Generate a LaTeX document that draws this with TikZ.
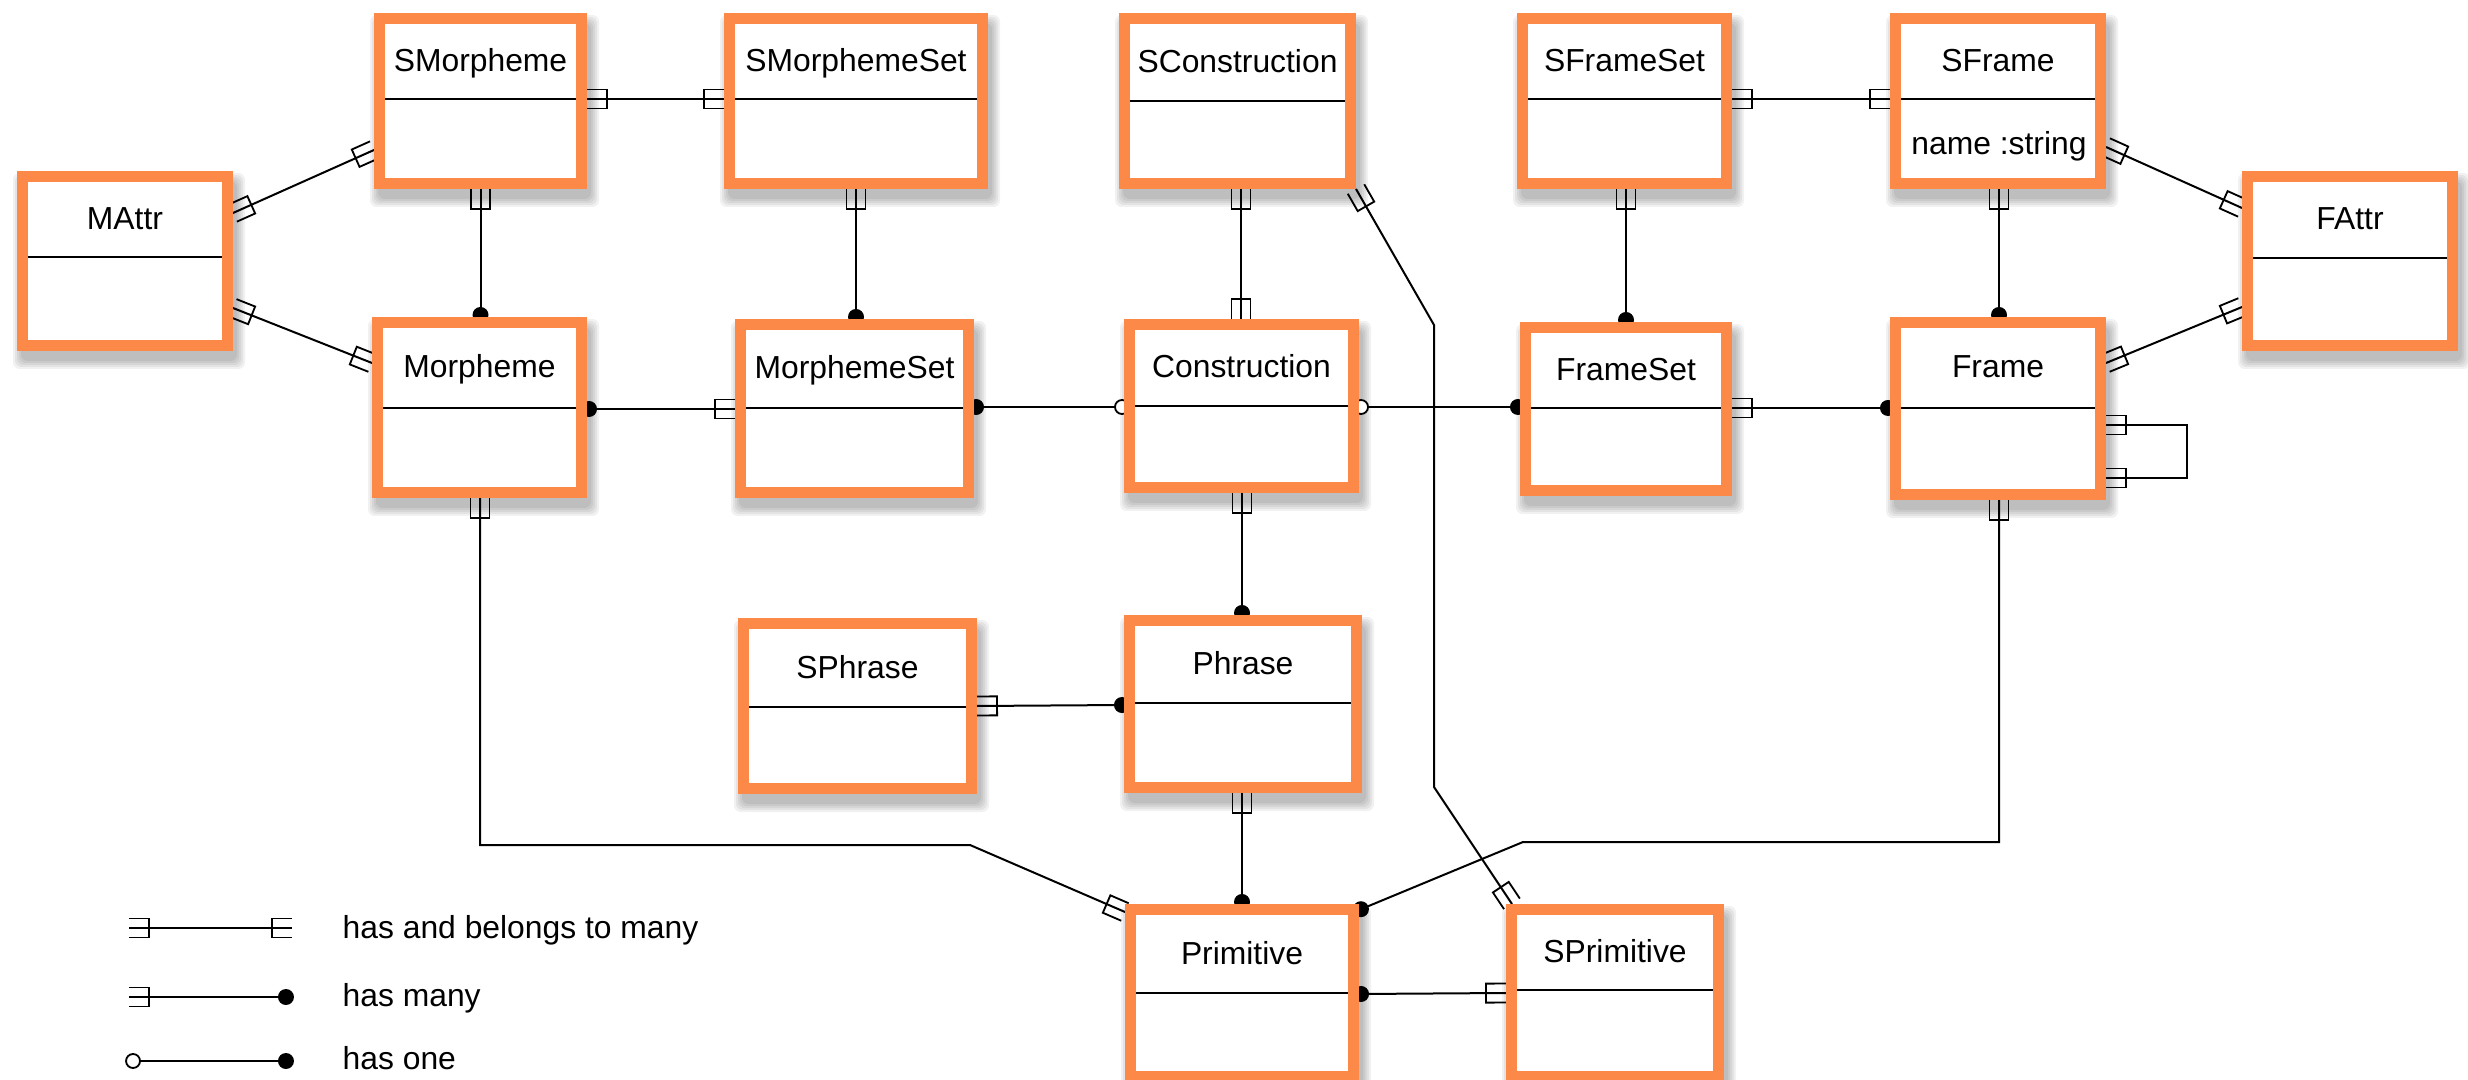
\documentclass[tikz,border=0pt]{standalone}
\usepackage{fontspec}
\setmainfont{Liberation Sans}
\usetikzlibrary{decorations.markings}

\definecolor{boxorange}{RGB}{253,137,72}

\pgfdeclarelayer{back}
\pgfdeclarelayer{shade}
\pgfdeclarelayer{wires}
\pgfsetlayers{back,shade,wires,main}

\tikzset{
  classbox/.style={rectangle, draw=boxorange, line width=3.3pt, fill=white,
    inner sep=0pt, outer sep=1.65pt},
  shadestep/.style={fill=black, fill opacity=0.055, draw=none, rounded corners=2pt},
  divider/.style={line width=0.7pt},
  classtitle/.style={anchor=base, inner sep=0pt, font=\fontsize{9.55pt}{11pt}\selectfont},
  legendtext/.style={anchor=base west, inner sep=0pt, font=\fontsize{9.55pt}{11pt}\selectfont},
  wire/.style={line width=0.6pt},
  markline/.style={line width=0.55pt},
  % crow-style "many" bracket, open towards the class box
  manyS/.style={postaction={decorate,decoration={markings,
    mark=at position 0.01pt with {\draw[markline] (0pt,-2.85pt) -- (6pt,-2.85pt) -- (6pt,2.85pt) -- (0pt,2.85pt);}}}},
  manyE/.style={postaction={decorate,decoration={markings,
    mark=at position -0.01pt with {\draw[markline] (0pt,-2.85pt) -- (-6pt,-2.85pt) -- (-6pt,2.85pt) -- (0pt,2.85pt);}}}},
  % filled dot
  dotS/.style={postaction={decorate,decoration={markings,
    mark=at position 0.01pt with {\fill (0.6pt,0pt) circle (2.4pt);}}}},
  dotE/.style={postaction={decorate,decoration={markings,
    mark=at position -0.01pt with {\fill (-0.6pt,0pt) circle (2.4pt);}}}},
  % open circle
  openS/.style={postaction={decorate,decoration={markings,
    mark=at position 0.01pt with {\draw[markline,fill=white] (0.6pt,0pt) circle (2.1pt);}}}},
  openE/.style={postaction={decorate,decoration={markings,
    mark=at position -0.01pt with {\draw[markline,fill=white] (-0.6pt,0pt) circle (2.1pt);}}}},
}

% #1 name, #2 left, #3 top, #4 right, #5 bottom, #6 divider, #7 title
\newcommand\umlclass[7]{%
  \begin{pgfonlayer}{shade}
    \foreach \r in {0,2,...,8}
      \fill[shadestep] ({#2+4-\r},{#3+10-\r}) rectangle ({#4+4+\r},{#5+10+\r});
  \end{pgfonlayer}
  \node[classbox, minimum width={(#4-#2-11)*0.3pt}, minimum height={(#5-#3-11)*0.3pt}]
    (#1) at ({(#2+#4)/2},{(#3+#5)/2}) {};
  \draw[divider] ({#2+11},#6) -- ({#4-11},#6);
  \node[classtitle] (#1-title) at ({(#2+#4)/2},{(#3+11+#6)/2+10}) {#7};
}

\begin{document}
\begin{tikzpicture}[x=0.3pt,y=-0.3pt]
\begin{pgfonlayer}{back}
  \fill[white] (0,0) rectangle (2468,1080);
\end{pgfonlayer}
\useasboundingbox (0,0) rectangle (2468,1080);

% classes
\umlclass{MAttr}{17}{171}{233}{351}{257}{MAttr}
\umlclass{SMorpheme}{374}{13}{587}{189}{99}{SMorpheme}
\umlclass{SMorphemeSet}{724}{13}{988}{189}{99}{SMorphemeSet}
\umlclass{SConstruction}{1119}{13}{1356}{189}{101}{SConstruction}
\umlclass{SFrameSet}{1517}{13}{1732}{189}{99}{SFrameSet}
\umlclass{SFrame}{1890}{13}{2106}{189}{99}{SFrame}
\node[classtitle] (SFrame-attr) at (1999,155) {name :string};
\umlclass{FAttr}{2242}{171}{2458}{351}{258}{FAttr}
\umlclass{Morpheme}{372}{317}{587}{498}{408}{Morpheme}
\umlclass{MorphemeSet}{735}{319}{974}{498}{408}{MorphemeSet}
\umlclass{Construction}{1124}{319}{1359}{493}{406}{Construction}
\umlclass{FrameSet}{1520}{322}{1732}{496}{408}{FrameSet}
\umlclass{Frame}{1890}{317}{2106}{500}{408}{Frame}
\umlclass{SPhrase}{738}{618}{977}{794}{707}{SPhrase}
\umlclass{Phrase}{1124}{615}{1362}{793}{703}{Phrase}
\umlclass{Primitive}{1125}{904}{1359}{1082}{993}{Primitive}
\umlclass{SPrimitive}{1506}{904}{1724}{1082}{990}{SPrimitive}

% associations
\begin{pgfonlayer}{wires}
  \draw[wire,manyS,manyE] (MAttr.east |- 0,213) -- (SMorpheme.west |- 0,150);
  \draw[wire,manyS,manyE] (MAttr.east |- 0,308) -- (Morpheme.west |- 0,363);
  \draw[wire,manyS,manyE] (SMorpheme.east |- 0,99) -- (SMorphemeSet.west |- 0,99);
  \draw[wire,manyS,dotE] (SMorpheme.south) -- (SMorpheme.south |- Morpheme.north);
  \draw[wire,manyS,dotE] (SMorphemeSet.south) -- (SMorphemeSet.south |- MorphemeSet.north);
  \draw[wire,dotS,manyE] (Morpheme.east |- 0,409) -- (MorphemeSet.west |- 0,409);
  \draw[wire,dotS,openE] (MorphemeSet.east |- 0,407) -- (Construction.west |- 0,407);
  \draw[wire,manyS,manyE] (SConstruction.south -| 1241,0) -- (Construction.north -| 1241,0);
  \draw[wire,openS,dotE] (Construction.east |- 0,407) -- (FrameSet.west |- 0,407);
  \draw[wire,manyS,manyE] (SConstruction.south east) -- (1434,325) -- (1434,787)
        -- (SPrimitive.north -| 1512,0);
  \draw[wire,manyS,manyE] (SFrameSet.east |- 0,99) -- (SFrame.west |- 0,99);
  \draw[wire,manyS,dotE] (SFrameSet.south -| 1626,0) -- (FrameSet.north -| 1626,0);
  \draw[wire,manyS,dotE] (FrameSet.east |- 0,408) -- (Frame.west |- 0,408);
  \draw[wire,manyS,dotE] (SFrame.south -| 1999,0) -- (Frame.north -| 1999,0);
  \draw[wire,manyS,manyE] (SFrame.east |- 0,147) -- (FAttr.west |- 0,208);
  \draw[wire,manyS,manyE] (Frame.east |- 0,363) -- (FAttr.west |- 0,307);
  \draw[wire,manyS,manyE] (Frame.east |- 0,425) -- (2187,425) -- (2187,478) -- (Frame.east |- 0,478);
  \draw[wire,manyS,dotE] (Construction.south -| 1242,0) -- (Phrase.north -| 1242,0);
  \draw[wire,manyS,dotE] (SPhrase.east |- 0,706) -- (Phrase.west |- 0,705);
  \draw[wire,manyS,dotE] (Phrase.south -| 1242,0) -- (Primitive.north -| 1242,0);
  \draw[wire,manyS,manyE] (Morpheme.south -| 480,0) -- (480,845) -- (970,845)
        -- (Primitive.west |- 0,912);
  \draw[wire,manyS,dotE] (Frame.south -| 1999,0) -- (1999,842) -- (1523,842)
        -- (Primitive.east |- 0,910);
  \draw[wire,dotS,manyE] (Primitive.east |- 0,994) -- (SPrimitive.west |- 0,993);
\end{pgfonlayer}

% legend
\coordinate (lg1a) at (129,928);  \coordinate (lg1b) at (292,928);
\coordinate (lg2a) at (129,997);  \coordinate (lg2b) at (288,997);
\coordinate (lg3a) at (131,1061); \coordinate (lg3b) at (288,1061);
\draw[wire,manyS,manyE] (lg1a) -- (lg1b);
\draw[wire,manyS,dotE] (lg2a) -- (lg2b);
\draw[wire,openS,dotE] (lg3a) -- (lg3b);
\node[legendtext] (lgt1) at (342,938) {has and belongs to many};
\node[legendtext] (lgt2) at (342,1006) {has many};
\node[legendtext] (lgt3) at (342,1069) {has one};
\end{tikzpicture}
\end{document}
